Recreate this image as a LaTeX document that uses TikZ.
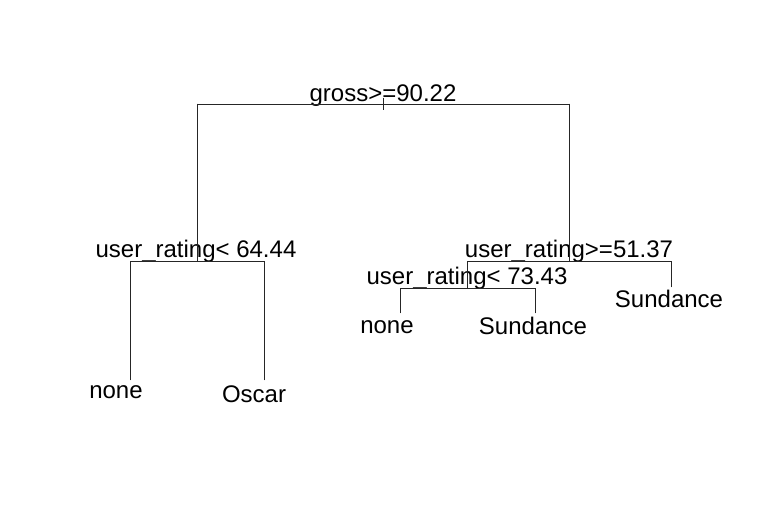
\documentclass[tikz,border=0pt]{standalone}
\usepackage{fontspec}
\setmainfont{Liberation Sans}
\begin{document}
\begin{tikzpicture}[x=1pt,y=-1pt,
  lbl/.style={font=\fontsize{24}{28}\selectfont, inner sep=0pt, anchor=base, text=black},
  br/.style={line width=0.9pt, draw=black!85, line cap=rect}]
\useasboundingbox[fill=white] (0,0) rectangle (762,505);
% branch points
\coordinate (rtop) at (383,98);
\coordinate (rbot) at (383,110);
\coordinate (rl) at (197,104);
\coordinate (rr) at (569,104);
\coordinate (a) at (197,261);
\coordinate (al) at (130,261);
\coordinate (ar) at (264,261);
\coordinate (leaf1) at (130,380);
\coordinate (leaf2) at (264,380);
\coordinate (b) at (569,261);
\coordinate (bl) at (467,261);
\coordinate (br) at (671,261);
\coordinate (leaf5) at (671,287);
\coordinate (c) at (467,288);
\coordinate (cl) at (400,288);
\coordinate (cr) at (535,288);
\coordinate (leaf3) at (400,313);
\coordinate (leaf4) at (535,313);
% labels
\node[lbl] (n0) at (383,102) {gross>=90.22};
\node[lbl] (n1) at (196,257) {user\_rating< 64.44};
\node[lbl] (n2) at (569,257) {user\_rating>=51.37};
\node[lbl] (n3) at (467,284) {user\_rating< 73.43};
\node[lbl] (t1) at (116,398) {none};
\node[lbl] (t2) at (254,402.5) {Oscar};
\node[lbl] (t3) at (387,333) {none};
\node[lbl] (t4) at (533,334) {Sundance};
\node[lbl] (t5) at (669,307) {Sundance};
% branches
\draw[br] (rtop) -- (rbot);
\draw[br] (rl) -- (rr);
\draw[br] (rl) -- (a);
\draw[br] (al) -- (ar);
\draw[br] (al) -- (leaf1);
\draw[br] (ar) -- (leaf2);
\draw[br] (rr) -- (b);
\draw[br] (bl) -- (br);
\draw[br] (br) -- (leaf5);
\draw[br] (bl) -- (c);
\draw[br] (cl) -- (cr);
\draw[br] (cl) -- (leaf3);
\draw[br] (cr) -- (leaf4);
\end{tikzpicture}
\end{document}
